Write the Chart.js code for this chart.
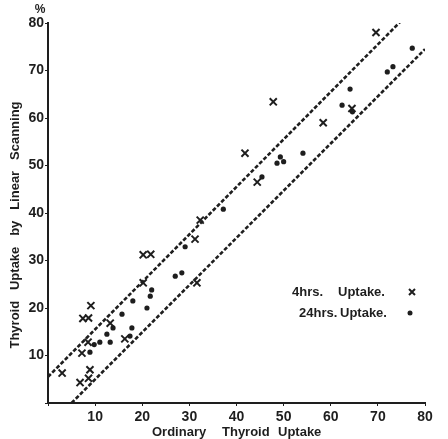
<!doctype html>
<html lang="en">
  <head>
    <meta charset="utf-8">
    <title>Thyroid Uptake</title>
    <script src="https://cdn.jsdelivr.net/npm/chart.js@4.4.1/dist/chart.umd.min.js"></script>
    <style>
        html, body { margin: 0; padding: 0; background: #fff; }
        #uptake-chart { display: block; }
    </style>
  </head>
  <body>
    <canvas id="uptake-chart" width="448" height="439"></canvas>

    <script>
        // 4 hour uptake readings (crosses)
        const hrs4X = [3, 6.8, 8.6, 8.9, 7.2, 8.5, 7.4, 8.6, 9.1, 13.2, 16.3, 20.2, 21.8, 20.2, 31.2, 32.3, 31.6, 41.8, 44.4, 47.8, 58.4, 64.5, 69.6]
        const hrs4Y = [6.3, 4.3, 5.2, 7, 10.5, 12.8, 17.8, 17.9, 20.5, 16.8, 13.5, 31.2, 31.3, 25.3, 34.5, 38.5, 25.3, 52.6, 46.5, 63.4, 59, 62, 78]

        // 24 hour uptake readings (dots)
        const hrs24X = [8.9, 9.8, 11, 12.5, 13.2, 13.8, 15.7, 17.4, 17.8, 18, 21, 21.7, 22, 27, 28.4, 29.1, 37.2, 45.4, 48.6, 50, 49.3, 54.1, 62.4, 64.1, 64.6, 72, 73.2, 77.3]
        const hrs24Y = [10.7, 12.3, 12.8, 14.5, 12.8, 15.8, 18.7, 14.1, 15.8, 21.5, 20, 22.5, 23.8, 26.7, 27.4, 32.9, 40.8, 47.6, 50.5, 50.8, 51.8, 52.6, 62.7, 66.1, 61.3, 69.7, 70.8, 74.7]

        // dashed limit lines
        const upperLineX = [0, 75]
        const upperLineY = [5.5, 80.5]
        const lowerLineX = [5, 80]
        const lowerLineY = [0, 74.5]

        const axisTicks = [10, 20, 30, 40, 50, 60, 70, 80]

        const ink = '#1e1e1e'
        const labelFont = 'bold 13px "Liberation Sans", Arial, sans-serif'

        function toPoints(xs, ys) {
            return xs.map((x, i) => ({ x: x, y: ys[i] }))
        }

        // axis titles, % signs and the little legend box
        const annotations = {
            id: 'annotations',
            afterDraw(chart) {
                const ctx = chart.ctx
                const xs = chart.scales.x
                const ys = chart.scales.y
                ctx.save()
                ctx.fillStyle = ink
                ctx.strokeStyle = ink
                ctx.textBaseline = 'middle'

                // % markers at the end of each axis
                ctx.font = 'bold 12px "Liberation Sans", Arial, sans-serif'
                ctx.textAlign = 'center'
                ctx.fillText('%', xs.right + 16, xs.bottom + 15)
                ctx.fillText('%', ys.right - 8, ys.top - 13)

                // bottom title
                ctx.font = labelFont
                ctx.textAlign = 'left'
                ctx.fillText('Ordinary', 152, 432)
                ctx.fillText('Thyroid', 222, 432)
                ctx.fillText('Uptake', 278, 432)

                // legend
                ctx.fillText('4hrs.', 292, 292)
                ctx.fillText('Uptake.', 338, 292)
                ctx.fillText('24hrs.', 299, 313)
                ctx.fillText('Uptake.', 340, 313)

                ctx.lineWidth = 2
                ctx.beginPath()
                ctx.moveTo(409, 289); ctx.lineTo(415, 295)
                ctx.moveTo(415, 289); ctx.lineTo(409, 295)
                ctx.stroke()
                ctx.beginPath()
                ctx.arc(410, 313, 2.5, 0, Math.PI * 2)
                ctx.fill()

                // left title, rotated a quarter turn
                ctx.translate(15, 225)
                ctx.rotate(-Math.PI / 2)
                ctx.textAlign = 'center'
                ctx.fillText('Thyroid   Uptake   by   Linear   Scanning', 0, 0)
                ctx.restore()
            }
        }

        const tickOpts = {
            color: ink,
            font: { family: '"Liberation Sans", Arial, sans-serif', size: 14, weight: 'bold' },
            callback: v => axisTicks.includes(v) ? String(v) : ''
        }

        const dashLine = {
            type: 'line',
            borderColor: ink,
            borderWidth: 2.6,
            borderDash: [4, 2],
            pointRadius: 0,
            fill: false
        }

        new Chart(document.getElementById('uptake-chart'), {
            type: 'scatter',
            data: {
                datasets: [
                    {
                        label: '4hrs. Uptake.',
                        data: toPoints(hrs4X, hrs4Y),
                        pointStyle: 'crossRot',
                        pointRadius: 5,
                        borderColor: ink,
                        borderWidth: 2
                    },
                    {
                        label: '24hrs. Uptake.',
                        data: toPoints(hrs24X, hrs24Y),
                        pointStyle: 'circle',
                        pointRadius: 2.6,
                        backgroundColor: ink,
                        borderColor: ink,
                        borderWidth: 0
                    },
                    Object.assign({ data: toPoints(upperLineX, upperLineY) }, dashLine),
                    Object.assign({ data: toPoints(lowerLineX, lowerLineY) }, dashLine)
                ]
            },
            options: {
                responsive: false,
                animation: false,
                layout: { padding: { top: 23, right: 23, left: 0, bottom: 0 } },
                plugins: {
                    legend: { display: false },
                    tooltip: { enabled: false }
                },
                scales: {
                    x: {
                        type: 'linear',
                        min: 0,
                        max: 80,
                        ticks: Object.assign({ stepSize: 10, padding: 3, maxRotation: 0 }, tickOpts),
                        grid: { drawOnChartArea: false, tickLength: 3, color: ink },
                        border: { color: ink, width: 2 },
                        afterFit: s => { s.height = 36 }
                    },
                    y: {
                        type: 'linear',
                        min: 0,
                        max: 80,
                        ticks: Object.assign({ stepSize: 10, padding: 1 }, tickOpts),
                        grid: { drawOnChartArea: false, tickLength: 3, color: ink },
                        border: { color: ink, width: 2 },
                        afterFit: s => { s.width = 48 }
                    }
                }
            },
            plugins: [annotations]
        });
    </script>
  </body>
</html>
